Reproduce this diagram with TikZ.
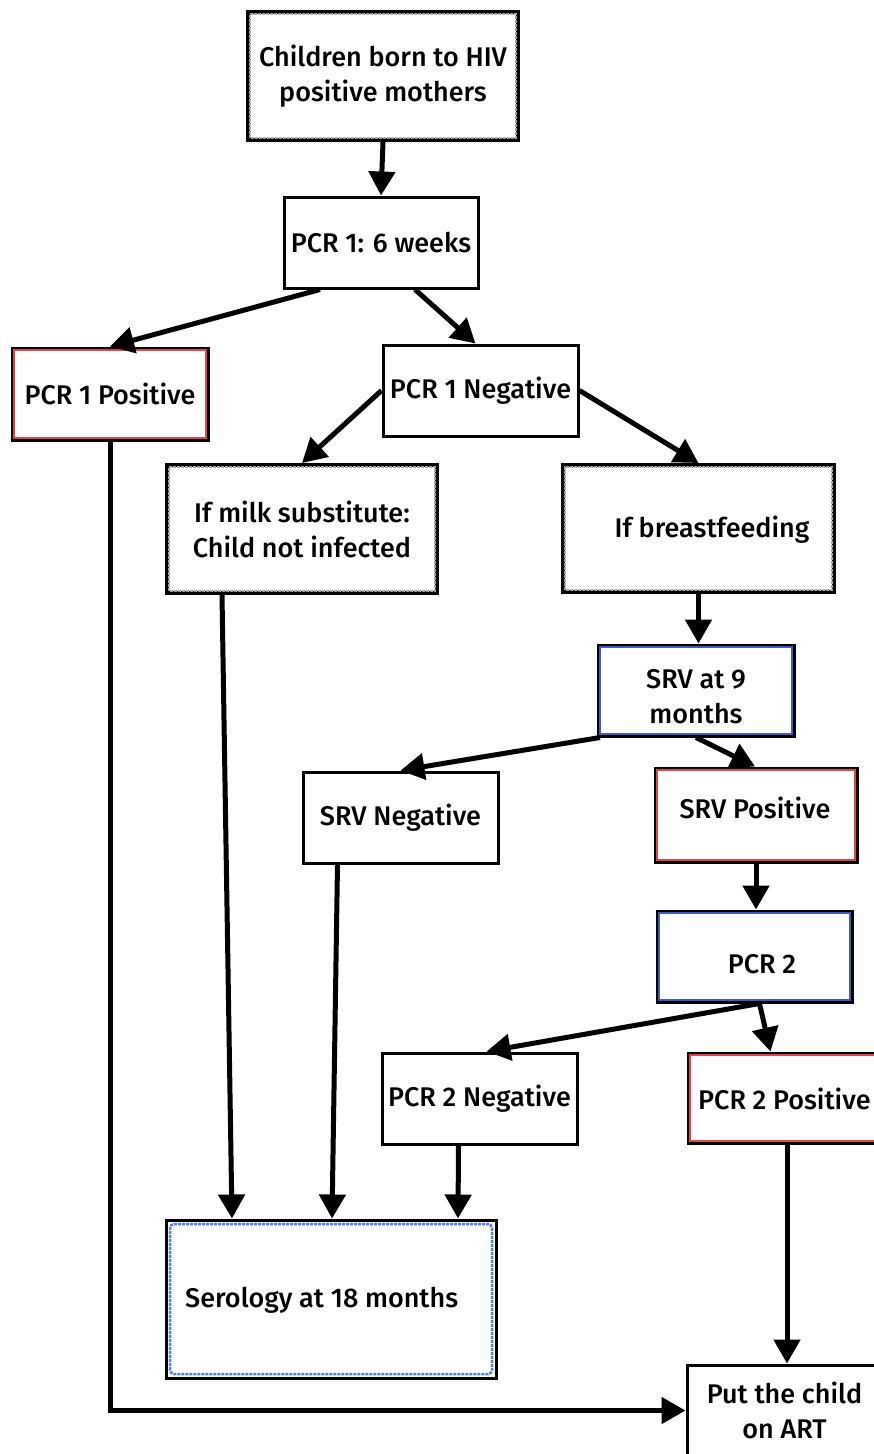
\documentclass[tikz,border=0pt]{standalone}
\usepackage{fontspec}
\setmainfont{Fira Sans Medium}
\usetikzlibrary{arrows.meta,calc}
\definecolor{inred}{RGB}{225,70,70}
\definecolor{inblue}{RGB}{60,90,200}
\definecolor{inlblue}{RGB}{80,125,235}
\tikzset{
  txt/.style={font=\fontsize{27}{35}\selectfont},
  box/.style={draw=black, line width=3pt, fill=white, inner sep=0pt, align=center, txt},
  thickbox/.style={box, line width=4pt},
  arr/.style={line width=5pt, -{Triangle[length=24pt,width=26pt]}},
  inred/.style={draw=inred, line width=1.2pt},
  inblue/.style={draw=inblue, line width=1.2pt},
  ingray/.style={draw=gray!70, line width=1.5pt, dash pattern=on 3pt off 1pt},
  inser/.style={draw=inlblue, line width=2.5pt, dash pattern=on 3pt off 1pt, rounded corners=4pt}
}
\begin{document}
\begin{tikzpicture}[x=1pt,y=-1pt]
\fill[white] (0,0) rectangle (873,1454);
\useasboundingbox (0,0) rectangle (873,1454);
% nodes
\node[thickbox, minimum width=270pt, minimum height=128pt] (top) at (383,76) {Children born to HIV\\positive mothers};
\node[box, minimum width=194pt, minimum height=91pt] (pcr1) at (381,242.5) {PCR 1: 6 weeks};
\node[box, minimum width=196pt, minimum height=92pt] (pos1) at (110,394) {PCR 1 Positive};
\node[box, minimum width=195pt, minimum height=91pt] (neg1) at (480.5,390.5) {PCR 1 Negative};
\node[thickbox, minimum width=270pt, minimum height=128pt] (milk) at (302,529) {If milk substitute:\\Child not infected};
\node[thickbox, minimum width=271pt, minimum height=127pt] (breast) at (698.5,528.5) {};
\node[txt, inner sep=0pt] (breasttxt) at (712,530) {If breastfeeding};
\node[box, minimum width=196pt, minimum height=91pt] (srv9) at (696,690.5) {};
\node[txt, inner sep=0pt, align=center] (srv9txt) at (696,697) {SRV at 9\\months};
\node[box, minimum width=195pt, minimum height=91pt] (srvneg) at (400.5,817.5) {SRV Negative};
\node[box, minimum width=202pt, minimum height=94pt] (srvpos) at (756,815) {};
\node[txt, inner sep=0pt] (srvpostxt) at (755,808) {SRV Positive};
\node[box, minimum width=195pt, minimum height=91pt] (pcr2) at (754.5,956.5) {};
\node[txt, inner sep=0pt] (pcr2txt) at (762,964) {PCR 2};
\node[box, minimum width=195pt, minimum height=91pt] (neg2) at (479.5,1098.5) {PCR 2 Negative};
\node[box, minimum width=195pt, minimum height=90pt] (pos2) at (785.5,1098) {};
\node[txt, inner sep=0pt, anchor=west] (pos2txt) at (698,1099) {PCR 2 Positive};
\node[box, minimum width=330pt, minimum height=158pt] (ser) at (331,1299) {};
\node[txt, inner sep=0pt, anchor=west] (sertxt) at (185,1300) {Serology at 18 months};
\node[box, minimum width=195pt, minimum height=91pt] (art) at (784.5,1410.5) {Put the child\\on ART};
% inner lines
\foreach \n in {top,milk,breast}
  \draw[ingray] ([shift={(4pt,4pt)}]\n.south west) rectangle ([shift={(-4pt,-4pt)}]\n.north east);
\foreach \n in {pos1,srvpos,pos2}
  \draw[inred] ([shift={(3.5pt,3.5pt)}]\n.south west) rectangle ([shift={(-3.5pt,-3.5pt)}]\n.north east);
\foreach \n in {srv9,pcr2}
  \draw[inblue] ([shift={(3.5pt,3.5pt)}]\n.south west) rectangle ([shift={(-3.5pt,-3.5pt)}]\n.north east);
\draw[inser] ([shift={(5.5pt,5.5pt)}]ser.south west) rectangle ([shift={(-5.5pt,-5.5pt)}]ser.north east);
% arrows
\draw[arr] (top.south) -- (pcr1.north);
\draw[arr] ([xshift=-61pt]pcr1.south) -- ([xshift=0pt]pos1.north);
\draw[arr] ([xshift=34pt]pcr1.south) -- ([xshift=-5pt]neg1.north);
\draw[arr] (neg1.west) -- (milk.north);
\draw[arr] (neg1.east) -- (breast.north);
\draw[arr] ([xshift=-80pt]milk.south) -- ([xshift=-99pt]ser.north);
\draw[arr] (breast.south) -- (breast.south |- srv9.north);
\draw[arr] ([xshift=-96pt]srv9.south) -- (srvneg.north);
\draw[arr] (srv9.south) -- ([xshift=-1pt]srvpos.north);
\draw[arr] ([xshift=-63pt]srvneg.south) -- ([xshift=1pt]ser.north);
\draw[arr] (srvpos.south) -- (srvpos.south |- pcr2.north);
\draw[arr] ([xshift=5pt]pcr2.south) -- ([xshift=7pt]neg2.north);
\draw[arr] ([xshift=5pt]pcr2.south) -- ([xshift=-15pt]pos2.north);
\draw[arr] ([xshift=-21pt]neg2.south) -- ([xshift=127pt]ser.north);
\draw[arr] ([xshift=1.5pt]pos2.south) -- ([xshift=2.5pt]art.north);
\draw[arr] (pos1.south) |- (art.west);
\end{tikzpicture}
\end{document}
